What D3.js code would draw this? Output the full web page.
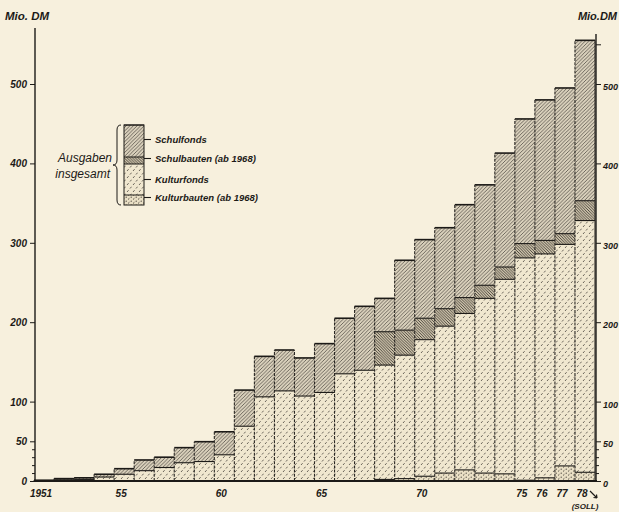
<!DOCTYPE html>
<html><head><meta charset="utf-8">
<script src="https://cdn.jsdelivr.net/npm/d3@7/dist/d3.min.js"></script>
<style>
html,body{margin:0;padding:0;background:#f7f0dd;}
svg{display:block;}
text{font-family:"Liberation Sans","DejaVu Sans",sans-serif;font-style:italic;font-weight:bold;fill:#1c1a17;}
</style></head>
<body>
<svg id="c" width="619" height="512"></svg>
<script>
const years = d3.range(1951, 1979);
const kulturbauten = [0,0,0,0,0,0,0,0,0,0,0,0,0,0,0,0,0, 2,3,6,10,14,10,9,1,4,19,11];
const kulturfonds  = [0.5,1.5,2,5,8.5,13,17,23,24.5,33,69,106,113.5,107,111.5,135,139.5, 144,155.5,172,185,197,220,245,280,282,279,317];
const schulbauten  = [0,0,0,0,0,0,0,0,0,0,0,0,0,0,0,0,0, 42,31.5,27,22,20,16.5,15.5,18,17,13.5,25];
const schulfonds   = [0.5,1.5,2,3.5,7,13.5,13,19,25,29,45.5,51,51.5,48,61.5,70,80.5, 42,88,99,102,117,126.5,143.5,157,177,183.5,202];
const yTicks = [0,50,100,200,300,400,500];
const xLabelYears = [1951,1955,1960,1965,1970,1975,1976,1977,1978];
const legendItems = ["Schulfonds","Schulbauten (ab 1968)","Kulturfonds","Kulturbauten (ab 1968)"];

const keys = ["kulturbauten","kulturfonds","schulbauten","schulfonds"];
const rows = years.map((yr,i)=>({year:yr, kulturbauten:kulturbauten[i], kulturfonds:kulturfonds[i], schulbauten:schulbauten[i], schulfonds:schulfonds[i]}));
const stack = d3.stack().keys(keys)(rows);

const svg = d3.select("#c");
svg.append("rect").attr("width",619).attr("height",512).attr("fill","#f7f0dd");

const defs = svg.append("defs");
let p = defs.append("pattern").attr("id","p-schulfonds").attr("patternUnits","userSpaceOnUse").attr("width",3.6).attr("height",3.6);
p.append("rect").attr("width",3.6).attr("height",3.6).attr("fill","#dad1bc");
p.append("path").attr("d","M-1,1 L1,-1 M0,3.6 L3.6,0 M2.6,4.6 L4.6,2.6").attr("stroke","#4a463f").attr("stroke-width",0.75);
p = defs.append("pattern").attr("id","p-schulbauten").attr("patternUnits","userSpaceOnUse").attr("width",2.8).attr("height",2.8);
p.append("rect").attr("width",2.8).attr("height",2.8).attr("fill","#cdc2aa");
p.append("path").attr("d","M-1,1.8 L1,3.8 M0,0 L2.8,2.8 M1.8,-1 L3.8,1").attr("stroke","#2e2b26").attr("stroke-width",0.8);
p = defs.append("pattern").attr("id","p-kulturfonds").attr("patternUnits","userSpaceOnUse").attr("width",6).attr("height",7);
p.append("rect").attr("width",6).attr("height",7).attr("fill","#f0e7cf");
p.append("path").attr("d","M1,3 L2.6,1.2 M4,6.5 L5.6,4.7").attr("stroke","#5b564d").attr("stroke-width",0.9);
p = defs.append("pattern").attr("id","p-kulturbauten").attr("patternUnits","userSpaceOnUse").attr("width",5).attr("height",4);
p.append("rect").attr("width",5).attr("height",4).attr("fill","#e9dfc5");
p.append("circle").attr("cx",1.2).attr("cy",1.2).attr("r",0.6).attr("fill","#3a362f");
p.append("path").attr("d","M3,3.5 L4.4,2.3").attr("stroke","#3a362f").attr("stroke-width",0.8);

const x = d3.scaleBand().domain(years).range([34,595]).paddingInner(0).paddingOuter(0);
const y = d3.scaleLinear().domain([0,500]).range([481,84]);

const g = svg.append("g");
stack.forEach(s=>{
  g.append("g").selectAll("rect").data(s).join("rect")
    .attr("x", d=>x(d.data.year))
    .attr("width", x.bandwidth())
    .attr("y", d=>y(d[1]))
    .attr("height", d=>Math.max(0, y(d[0])-y(d[1])))
    .attr("fill", `url(#p-${s.key})`);
});
stack.forEach(s=>{
  g.append("g").selectAll("line").data(s.filter(d=>d[1]-d[0]>0)).join("line")
    .attr("x1", d=>x(d.data.year)).attr("x2", d=>x(d.data.year)+x.bandwidth())
    .attr("y1", d=>y(d[1])).attr("y2", d=>y(d[1]))
    .attr("stroke","#1c1a17").attr("stroke-width", s.key==="schulfonds"?1.6:1.1);
});
const totals = rows.map(r=>keys.reduce((a,k)=>a+r[k],0));
g.append("g").selectAll("line").data(rows).join("line")
  .attr("x1", d=>x(d.year)).attr("x2", d=>x(d.year))
  .attr("y1", y(0))
  .attr("y2", (d,i)=>y(Math.max(totals[i], i>0?totals[i-1]:0)))
  .attr("stroke","#2a2723").attr("stroke-width",1.1).attr("stroke-dasharray","3,1.2");
g.append("line").attr("x1",595).attr("x2",595).attr("y1",y(0)).attr("y2",y(totals[totals.length-1]))
  .attr("stroke","#2a2723").attr("stroke-width",1.1);

// left axis
const la = svg.append("g").attr("transform","translate(35,0)")
  .call(d3.axisLeft(y).tickValues(yTicks).tickSize(5).tickPadding(3).tickFormat(d3.format("d")));
la.select(".domain").remove();
la.selectAll("line").attr("stroke","#1c1a17").attr("stroke-width",1);
la.selectAll("text").style("font-size","10px").attr("dy","0.35em").attr("fill","#1c1a17");
svg.append("line").attr("x1",35).attr("x2",35).attr("y1",y(0)+1).attr("y2",28).attr("stroke","#1c1a17").attr("stroke-width",1.4);
svg.append("g").attr("transform","translate(35,0)")
  .call(d3.axisLeft(y).tickValues([10,20,30,40]).tickSize(3).tickFormat(""))
  .call(a=>{a.select(".domain").remove(); a.selectAll("line").attr("stroke","#1c1a17");});

// right axis
const ra = svg.append("g").attr("transform","translate(596,0)")
  .call(d3.axisRight(y).tickValues(yTicks.concat([550])).tickSize(5).tickPadding(2).tickFormat(d=>d===550?"":d3.format("d")(d)));
ra.select(".domain").remove();
ra.selectAll("line").attr("stroke","#1c1a17");
ra.selectAll("text").style("font-size","9px").attr("dy","0.6em").attr("fill","#1c1a17");
svg.append("line").attr("x1",596).attr("x2",596).attr("y1",y(0)+1).attr("y2",34).attr("stroke","#1c1a17").attr("stroke-width",1.4);
svg.append("g").attr("transform","translate(596,0)")
  .call(d3.axisRight(y).tickValues([10,20,30,40]).tickSize(3).tickFormat(""))
  .call(a=>{a.select(".domain").remove(); a.selectAll("line").attr("stroke","#1c1a17");});

// axis titles
svg.append("text").attr("x",5).attr("y",20).style("font-size","11.5px").text("Mio. DM");
svg.append("text").attr("x",617).attr("y",20).attr("text-anchor","end").style("font-size","11px").text("Mio.DM");

svg.append("line").attr("x1",34).attr("x2",597).attr("y1",y(0)).attr("y2",y(0)).attr("stroke","#1c1a17").attr("stroke-width",2);

// x labels
svg.append("g").selectAll("text").data(xLabelYears).join("text")
  .attr("x", d=>x(d)+x.bandwidth()/2-3)
  .attr("y", 497).attr("text-anchor","middle").style("font-size","10px")
  .text(d=>d===1951?"1951":String(d).slice(2));
svg.append("text").attr("x",585).attr("y",509).attr("text-anchor","middle").style("font-size","8px").text("(SOLL)");
svg.append("path").attr("d","M590,491 L597,498 M597,498 l-3.5,-0.5 M597,498 l-0.5,-3.5").attr("stroke","#1c1a17").attr("stroke-width",1.2).attr("fill","none");

// legend
const lg = svg.append("g");
const lx = 124, lw = 20;
const segs = [["schulfonds",125,157],["schulbauten",157,164],["kulturfonds",164,195],["kulturbauten",195,205]];
segs.forEach(s=>{
  lg.append("rect").attr("x",lx).attr("y",s[1]).attr("width",lw).attr("height",s[2]-s[1]).attr("fill",`url(#p-${s[0]})`);
  lg.append("line").attr("x1",lx).attr("x2",lx+lw).attr("y1",s[1]).attr("y2",s[1]).attr("stroke","#1c1a17").attr("stroke-width",1);
});
lg.append("rect").attr("x",lx).attr("y",125).attr("width",lw).attr("height",80).attr("fill","none").attr("stroke","#1c1a17").attr("stroke-width",1);
const labY = [143,162,183,201];
legendItems.forEach((t,i)=>{
  lg.append("line").attr("x1",lx+lw).attr("x2",lx+lw+7).attr("y1",labY[i]-3.5).attr("y2",labY[i]-3.5).attr("stroke","#1c1a17").attr("stroke-width",1.1);
  lg.append("text").attr("x",lx+lw+11).attr("y",labY[i]).style("font-size","9.5px").text(t);
});
lg.append("path").attr("d","M121,125 Q117,125 117,130 L117,160 Q117,165 113,165 Q117,165 117,170 L117,200 Q117,205 121,205")
  .attr("fill","none").attr("stroke","#1c1a17").attr("stroke-width",1);
lg.append("text").attr("x",112).attr("y",162).attr("text-anchor","end").style("font-size","12px").style("font-weight","normal").text("Ausgaben");
lg.append("text").attr("x",110).attr("y",178).attr("text-anchor","end").style("font-size","12px").style("font-weight","normal").text("insgesamt");
</script>
</body></html>
